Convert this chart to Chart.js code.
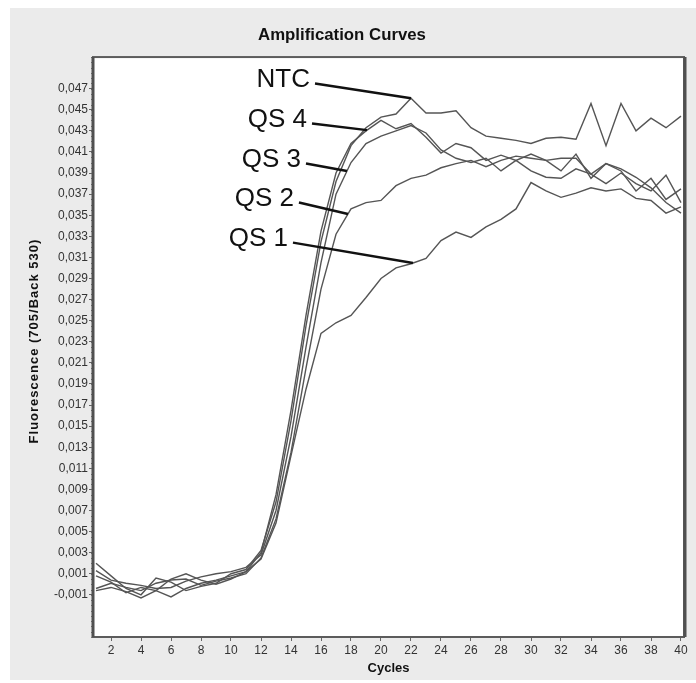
<!DOCTYPE html>
<html>
<head>
<meta charset="utf-8">
<script src="https://cdn.jsdelivr.net/npm/chart.js@4.4.0/dist/chart.umd.min.js"></script>
<style>
  html, body { margin: 0; padding: 0; background: #fff; }
  #wrap { width: 696px; height: 683px; }
</style>
</head>
<body>
<div id="wrap"><canvas id="ampChart" width="696" height="683"></canvas></div>
<script>
// cycles and fluorescence values
const cycles = [1, 2, 3, 4, 5, 6, 7, 8, 9, 10, 11, 12, 13, 14, 15, 16, 17, 18, 19, 20,
    21, 22, 23, 24, 25, 26, 27, 28, 29, 30, 31, 32, 33, 34, 35, 36, 37, 38, 39, 40];

const ntc = [0.0020, 0.0008, -0.0004, -0.0010, 0.0006, 0.0002, -0.0006, -0.0002, 0.0001, 0.0010,
    0.0014, 0.0032, 0.0078, 0.0155, 0.0245, 0.0325, 0.0382, 0.0416, 0.0433, 0.0443,
    0.0446, 0.0461, 0.0447, 0.0447, 0.0449, 0.0433, 0.0425, 0.0423, 0.0421, 0.0418,
    0.0423, 0.0424, 0.0422, 0.0456, 0.0416, 0.0456, 0.0430, 0.0442, 0.0433, 0.0444];

const qs4 = [0.0008, 0.0002, -0.0008, -0.0003, -0.0006, -0.0012, -0.0004, 0.0001, 0.0004, 0.0008,
    0.0012, 0.0030, 0.0085, 0.0165, 0.0255, 0.0335, 0.0390, 0.0418, 0.0430, 0.0440,
    0.0432, 0.0437, 0.0424, 0.0409, 0.0418, 0.0414, 0.0402, 0.0407, 0.0402, 0.0408,
    0.0402, 0.0392, 0.0408, 0.0385, 0.0399, 0.0392, 0.0373, 0.0385, 0.0365, 0.0375];

const qs3 = [0.0013, 0.0004, 0.0001, -0.0001, -0.0004, -0.0003, 0.0003, 0.0007, 0.0010, 0.0012,
    0.0016, 0.0028, 0.0070, 0.0140, 0.0225, 0.0305, 0.0370, 0.0400, 0.0418, 0.0425,
    0.0430, 0.0435, 0.0428, 0.0412, 0.0404, 0.0400, 0.0404, 0.0392, 0.0402, 0.0392,
    0.0386, 0.0385, 0.0394, 0.0389, 0.0380, 0.0390, 0.0380, 0.0373, 0.0388, 0.0362];

const qs2 = [-0.0004, 0.0001, -0.0003, -0.0006, 0.0001, 0.0004, 0.0005, -0.0001, 0.0003, 0.0006,
    0.0010, 0.0025, 0.0062, 0.0125, 0.0205, 0.0280, 0.0332, 0.0356, 0.0362, 0.0364,
    0.0378, 0.0385, 0.0388, 0.0395, 0.0399, 0.0402, 0.0396, 0.0402, 0.0406, 0.0404,
    0.0402, 0.0404, 0.0404, 0.0389, 0.0399, 0.0394, 0.0386, 0.0376, 0.0362, 0.0352];

const qs1 = [-0.0006, -0.0003, -0.0007, -0.0013, -0.0006, 0.0005, 0.0010, 0.0004, 0.0000, 0.0005,
    0.0012, 0.0024, 0.0058, 0.0122, 0.0185, 0.0238, 0.0248, 0.0255, 0.0272, 0.0290,
    0.0300, 0.0304, 0.0309, 0.0326, 0.0334, 0.0329, 0.0339, 0.0346, 0.0356, 0.0381,
    0.0373, 0.0367, 0.0371, 0.0376, 0.0373, 0.0375, 0.0366, 0.0364, 0.0352, 0.0358];

const seriesNames = ["NTC", "QS 4", "QS 3", "QS 2", "QS 1"];
const seriesData = [ntc, qs4, qs3, qs2, qs1];

const xTicks = [2, 4, 6, 8, 10, 12, 14, 16, 18, 20, 22, 24, 26, 28, 30, 32, 34, 36, 38, 40];
const yTicks = [-0.001, 0.001, 0.003, 0.005, 0.007, 0.009, 0.011, 0.013, 0.015, 0.017, 0.019,
    0.021, 0.023, 0.025, 0.027, 0.029, 0.031, 0.033, 0.035, 0.037, 0.039, 0.041, 0.043,
    0.045, 0.047];

// where each label sits (cycle, value) and the cycle on its curve it points to
const labelStart = [[15.6, 0.0475], [15.4, 0.0437], [15.0, 0.0399], [14.53, 0.0362], [14.13, 0.0324]];
const labelTarget = [22, 19.07, 17.73, 17.8, 22.13];

function valueAt(series, c) {
    const i = Math.floor(c) - 1;
    const f = c - Math.floor(c);
    if (i >= series.length - 1) return series[series.length - 1];
    return series[i] + (series[i + 1] - series[i]) * f;
}

const FONT = "Arial, 'Liberation Sans', Helvetica, sans-serif";

// grey panel behind the chart
const panelBg = {
    id: "panelBg",
    beforeDraw(chart) {
        const ctx = chart.ctx;
        ctx.save();
        ctx.fillStyle = "#ffffff";
        ctx.fillRect(0, 0, chart.width, chart.height);
        ctx.fillStyle = "#ebebeb";
        ctx.fillRect(10, 8, chart.width - 10, chart.height - 11);
        const a = chart.chartArea;
        ctx.fillStyle = "#ffffff";
        ctx.fillRect(a.left, a.top, a.right - a.left, a.bottom - a.top);
        ctx.restore();
    },
};

// frame, small ruler ticks and the y title (it needs letter spacing)
const frame = {
    id: "frame",
    afterDraw(chart) {
        const ctx = chart.ctx;
        const a = chart.chartArea;
        const y = chart.scales.y;
        ctx.save();
        ctx.strokeStyle = "#777";
        ctx.lineWidth = 1;
        for (let v = -0.005; v <= 0.0501; v += 0.0005) {
            const py = Math.round(y.getPixelForValue(v)) + 0.5;
            ctx.beginPath();
            ctx.moveTo(a.left - 2, py);
            ctx.lineTo(a.left, py);
            ctx.stroke();
        }
        ctx.strokeStyle = "#5c5c5c";
        ctx.lineWidth = 2;
        ctx.strokeRect(a.left, a.top, a.right - a.left, a.bottom - a.top);
        ctx.lineWidth = 3;
        ctx.strokeStyle = "#505050";
        ctx.beginPath();
        ctx.moveTo(a.left, a.top);
        ctx.lineTo(a.left, a.bottom);
        ctx.moveTo(a.right + 1, a.top);
        ctx.lineTo(a.right + 1, a.bottom);
        ctx.stroke();

        ctx.translate(34, 341);
        ctx.rotate(-Math.PI / 2);
        ctx.letterSpacing = "1px";
        ctx.font = "bold 13px " + FONT;
        ctx.fillStyle = "#111";
        ctx.textAlign = "center";
        ctx.textBaseline = "middle";
        ctx.fillText("Fluorescence (705/Back 530)", 0, 0);
        ctx.restore();
    },
};

// NTC / QS labels with leader lines
const curveLabels = {
    id: "curveLabels",
    afterDatasetsDraw(chart) {
        const ctx = chart.ctx;
        const xs = chart.scales.x;
        const ys = chart.scales.y;
        ctx.save();
        ctx.font = "26px " + FONT;
        ctx.fillStyle = "#111";
        ctx.strokeStyle = "#111";
        ctx.lineWidth = 2.5;
        ctx.textAlign = "right";
        ctx.textBaseline = "middle";
        seriesNames.forEach((name, i) => {
            const x0 = xs.getPixelForValue(labelStart[i][0]);
            const y0 = ys.getPixelForValue(labelStart[i][1]);
            const c = labelTarget[i];
            const x1 = xs.getPixelForValue(c);
            const y1 = ys.getPixelForValue(valueAt(seriesData[i], c));
            ctx.beginPath();
            ctx.moveTo(x0, y0);
            ctx.lineTo(x1, y1);
            ctx.stroke();
            ctx.fillText(name, x0 - 5, y0 - 4);
        });
        ctx.restore();
    },
};

new Chart(document.getElementById("ampChart"), {
    type: "line",
    data: {
        datasets: seriesData.map((s, i) => ({
            label: seriesNames[i],
            data: cycles.map((c, j) => ({ x: c, y: s[j] })),
            borderColor: "#555",
            borderWidth: 1.4,
            pointRadius: 0,
            tension: 0,
            fill: false,
        })),
    },
    options: {
        responsive: false,
        animation: false,
        layout: { padding: { left: 0, top: 0, right: 12, bottom: 0 } },
        plugins: {
            legend: { display: false },
            tooltip: { enabled: false },
            title: {
                display: true,
                text: "Amplification Curves",
                color: "#111",
                font: { family: FONT, size: 16.8, weight: "bold" },
                padding: { top: 24.9, bottom: 12 },
            },
        },
        scales: {
            x: {
                type: "linear",
                min: 0.8,
                max: 40.2,
                afterBuildTicks: (scale) => { scale.ticks = xTicks.map(v => ({ value: v })); },
                afterFit: (scale) => { scale.height = 46; },
                ticks: {
                    color: "#333",
                    font: { family: FONT, size: 12 },
                    padding: 2,
                    maxRotation: 0,
                    autoSkip: false,
                },
                grid: { drawOnChartArea: false, drawTicks: true, tickLength: 4, color: "#666" },
                border: { display: false },
                title: {
                    display: true,
                    text: "Cycles",
                    color: "#111",
                    font: { family: FONT, size: 13, weight: "bold" },
                    padding: { top: 0, bottom: 7 },
                },
            },
            y: {
                min: -0.005,
                max: 0.05,
                afterBuildTicks: (scale) => { scale.ticks = yTicks.map(v => ({ value: v })); },
                afterFit: (scale) => { scale.width = 93; },
                ticks: {
                    color: "#333",
                    font: { family: FONT, size: 12 },
                    padding: 1,
                    autoSkip: false,
                    callback: (v) => v.toFixed(3).replace(".", ","),
                },
                grid: { drawOnChartArea: false, drawTicks: true, tickLength: 4, color: "#666" },
                border: { display: false },
            },
        },
    },
    plugins: [panelBg, frame, curveLabels],
});
</script>
</body>
</html>
